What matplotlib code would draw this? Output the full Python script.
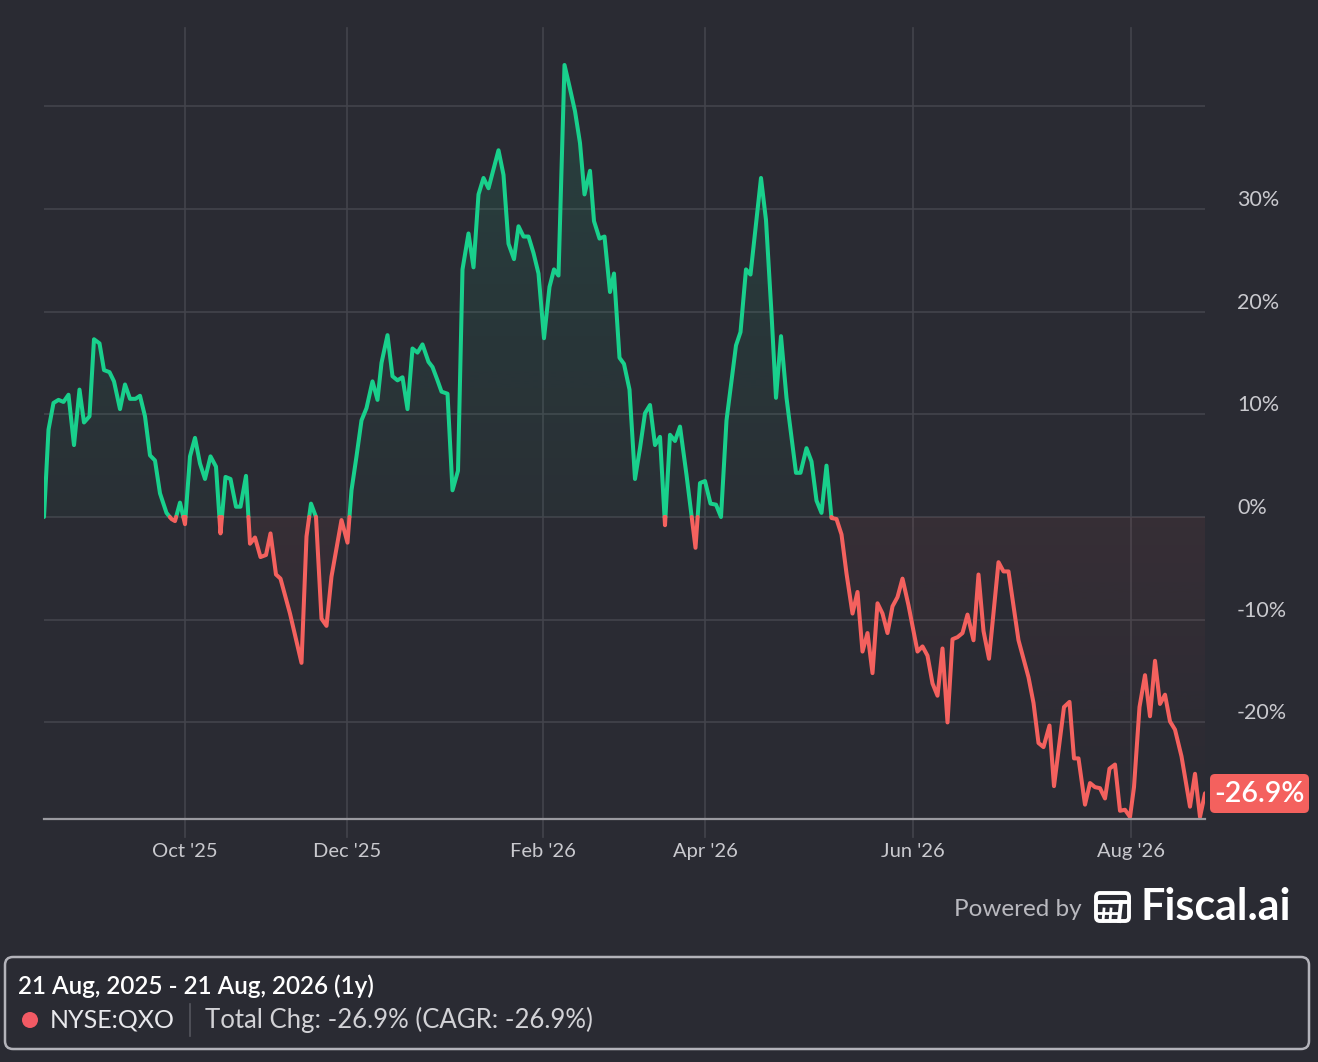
import numpy as np
import matplotlib
matplotlib.use("Agg")
import matplotlib.pyplot as plt
from matplotlib.patches import FancyBboxPatch, Circle
from matplotlib.path import Path
import matplotlib.transforms as mtransforms

plt.rcParams['font.family'] = ['Lato', 'DejaVu Sans']

# ---- data (x = trading-session position, y = % change) ----
day_pos = [0.0, 0.9, 1.9, 2.9, 3.9, 4.9, 6.0, 7.1, 8.0, 9.1, 10.0, 11.1, 12.0, 13.1, 14.0,
           15.2, 16.2, 17.2, 18.3, 19.2, 20.2, 21.2, 22.2, 23.2, 24.5, 25.5, 26.2, 27.2, 28.2,
           29.2, 30.2, 31.2, 32.2, 33.3, 34.4, 35.3, 36.3, 37.3, 38.4, 39.3, 40.4, 41.2, 42.2,
           43.3, 44.4, 45.3, 46.4, 47.3, 49.2, 51.5, 52.5, 53.4, 54.4, 55.5, 56.5, 57.5, 59.5,
           60.7, 61.5, 62.5, 63.5, 64.5, 65.7, 66.7, 67.5, 68.7, 69.7, 70.7, 71.7, 72.7, 73.7,
           74.7, 75.7, 76.9, 77.7, 78.7, 79.5, 80.7, 81.7, 82.8, 83.7, 84.9, 85.9, 86.9, 87.9,
           88.9, 90.9, 91.9, 92.9, 94.0, 94.9, 95.9, 96.9, 97.9, 98.9, 100.0, 101.1, 102.0,
           102.9, 104.1, 105.1, 106.2, 107.2, 108.1, 109.2, 110.0, 111.1, 112.1, 113.2, 114.0,
           115.1, 116.0, 117.1, 118.2, 119.2, 120.2, 121.2, 122.2, 123.2, 124.2, 125.2, 126.2,
           127.2, 128.5, 130.3, 131.2, 132.2, 133.3, 134.4, 135.4, 136.5, 138.4, 139.3, 140.4,
           141.3, 143.4, 144.4, 145.5, 146.4, 147.4, 148.5, 150.4, 151.3, 152.5, 153.5, 154.5,
           155.5, 156.5, 157.5, 158.5, 159.5, 160.5, 161.7, 162.7, 163.7, 164.7, 165.7, 166.7,
           167.7, 168.7, 169.7, 170.7, 171.7, 172.9, 174.7, 175.7, 176.7, 177.7, 178.7, 179.7,
           180.7, 181.7, 182.7, 183.7, 184.7, 185.9, 186.9, 187.9, 189.0, 190.9, 191.9, 192.9,
           194.9, 196.9, 197.9, 198.9, 199.9, 201.1, 202.0, 204.0, 205.1, 206.0, 206.9, 208.2,
           209.2, 210.2, 211.2, 212.2, 213.1, 214.2, 215.2, 216.2, 217.2, 218.0, 219.1, 220.2,
           221.2, 222.2, 223.2, 224.2, 225.2, 226.2, 227.5, 229.2, 230.2, 231.2, 232.2]

pct_chg = [0.0, 8.5, 11.1, 11.4, 11.2, 11.9, 7.0, 12.4, 9.2, 9.8, 17.3, 16.9, 14.3, 14.1, 13.2,
           10.5, 12.9, 11.5, 11.5, 11.8, 9.8, 6.0, 5.5, 2.3, 0.4, -0.2, -0.4, 1.4, -0.7,
           5.9, 7.7, 5.2, 3.7, 5.9, 4.9, -1.6, 3.9, 3.7, 1.0, 1.0, 4.0, -2.6, -2.0,
           -3.9, -3.7, -1.6, -5.6, -6.0, -9.4, -14.2, -1.9, 1.3, 0.0, -9.9, -10.6, -5.8, -0.3,
           -2.5, 2.6, 5.9, 9.4, 10.6, 13.2, 11.4, 15.0, 17.7, 13.7, 13.3, 13.6, 10.5, 16.4,
           16.0, 16.8, 15.1, 14.6, 13.3, 12.2, 12.0, 2.6, 4.5, 24.1, 27.6, 24.3, 31.4, 33.0,
           32.0, 35.7, 33.3, 26.6, 25.1, 28.3, 27.3, 27.3, 25.7, 23.7, 17.4, 22.4, 24.1,
           23.5, 44.0, 41.9, 39.5, 36.4, 31.4, 33.7, 28.8, 27.1, 27.3, 21.9, 23.7,
           15.5, 14.9, 12.4, 3.7, 6.7, 10.1, 10.9, 7.0, 7.8, -0.8, 8.0, 7.4,
           8.8, 4.1, -3.0, 3.3, 3.5, 1.3, 1.2, 0.0, 9.4, 16.7, 18.0, 24.1,
           23.6, 33.0, 28.9, 19.8, 11.6, 17.6, 11.6, 4.3, 4.3, 6.7, 5.4, 1.6,
           0.4, 5.0, -0.1, -0.2, -1.7, -5.5, -9.4, -7.3, -13.1, -11.3, -15.2, -8.4,
           -9.4, -11.3, -8.7, -7.8, -6.0, -8.6, -13.1, -12.6, -13.5, -16.2, -17.4, -12.8,
           -20.0, -11.9, -11.7, -11.3, -9.5, -12.0, -5.6, -11.1, -13.8, -4.4, -5.3, -5.3,
           -12.0, -15.6, -18.1, -22.0, -22.4, -20.3, -26.2, -18.5, -18.0, -23.5, -23.5, -28.0,
           -25.9, -26.3, -26.4, -27.4, -24.5, -24.1, -28.6, -28.5, -29.2, -26.3, -18.5, -15.4,
           -19.4, -14.0, -18.2, -17.3, -19.9, -20.7, -23.3, -28.2, -25.0, -29.2, -26.9]

tick_pos = [28.2, 60.6, 99.8, 132.2, 173.8, 217.4]
tick_labels = ["Oct '25", "Dec '25", "Feb '26", "Apr '26", "Jun '26", "Aug '26"]
y_grid = [-20, -10, 0, 10, 20, 30, 40]
y_labels = [-20, -10, 0, 10, 20, 30]

last_value = pct_chg[-1]
ticker = "NYSE:QXO"
period_text = "21 Aug, 2025 - 21 Aug, 2026 (1y)"

BG = '#2a2b33'
GRID = '#43444c'
GREEN = '#19d08c'
RED = '#f4615e'
TXT = '#c9c9ce'

W, H = 1318, 1062
fig = plt.figure(figsize=(W / 100, H / 100), dpi=100, facecolor=BG)

# overlay in pixel coordinates for footer elements
ov = fig.add_axes([0, 0, 1, 1], zorder=0)
ov.set_xlim(0, W)
ov.set_ylim(H, 0)
ov.axis('off')
ov.patch.set_alpha(0)

x0, x1, ytop, ybot = 44, 1205, 28, 819
ax = fig.add_axes([x0 / W, 1 - ybot / H, (x1 - x0) / W, (ybot - ytop) / H], zorder=1)
ax.set_facecolor('none')
ax.set_xlim(0, 232.2)
ax.set_ylim(-29.4, 47.6)

for s in ['top', 'left', 'right']:
    ax.spines[s].set_visible(False)
ax.spines['bottom'].set_color('#9a9aa0')
ax.spines['bottom'].set_linewidth(1.6)
ax.spines['bottom'].set_zorder(6)

for g in y_grid:
    ax.axhline(g, color=GRID, lw=1.2, zorder=1)
for t in tick_pos:
    ax.axvline(t, ymin=-18 / 791, ymax=1, color=GRID, lw=1.2, zorder=1, clip_on=False)

ax.set_xticks(tick_pos, tick_labels)
ax.set_yticks([])
ax.tick_params(axis='x', length=0, pad=17, labelsize=14.5, labelcolor=TXT)

lab_tr = mtransforms.offset_copy(ax.get_yaxis_transform(), fig=fig, x=0, y=3, units='dots')
for v in y_labels:
    ax.text(1.0276, v, f"{v}%", transform=lab_tr, ha='left', va='baseline',
            fontsize=15.5, color=TXT)

# split the line at zero crossings
x = np.asarray(day_pos, float)
y = np.asarray(pct_chg, float)
xs, ys = [x[0]], [y[0]]
for i in range(1, len(x)):
    if y[i - 1] * y[i] < 0:
        t = y[i - 1] / (y[i - 1] - y[i])
        xs.append(x[i - 1] + t * (x[i] - x[i - 1]))
        ys.append(0.0)
    xs.append(x[i])
    ys.append(y[i])
xs = np.array(xs)
ys = np.array(ys)


def grad_fill(yclip, color, lo, hi, a_lo, a_hi):
    verts = [(xs[0], 0)] + list(zip(xs, yclip)) + [(xs[-1], 0), (xs[0], 0)]
    codes = [Path.MOVETO] + [Path.LINETO] * (len(verts) - 2) + [Path.CLOSEPOLY]
    clip = Path(verts, codes)
    rgb = matplotlib.colors.to_rgb(color)
    n = 256
    img = np.zeros((n, 1, 4))
    img[:, 0, :3] = rgb
    img[:, 0, 3] = np.linspace(a_hi, a_lo, n)  # row 0 is the top
    im = ax.imshow(img, extent=[xs[0], xs[-1], lo, hi], aspect='auto',
                   origin='upper', zorder=2, interpolation='bilinear')
    im.set_clip_path(clip, ax.transData)


grad_fill(np.maximum(ys, 0), GREEN, 0, 47.6, 0.03, 0.14)
grad_fill(np.minimum(ys, 0), RED, -29.4, 0, 0.0, 0.065)

ax.plot(xs, np.where(ys >= 0, ys, np.nan), color=GREEN, lw=2.9, zorder=4,
        solid_joinstyle='round', solid_capstyle='round')
ax.plot(xs, np.where(ys <= 0, ys, np.nan), color=RED, lw=2.9, zorder=4,
        solid_joinstyle='round', solid_capstyle='round')

# last value badge
ov.add_patch(FancyBboxPatch((1210, 774), 99, 39, boxstyle='round,pad=0,rounding_size=5',
                            facecolor=RED, edgecolor='none', zorder=5))
ov.text(1259, 794, f"{last_value:.1f}%", ha='center', va='center', fontsize=20.5,
        color='white', fontweight='semibold', zorder=6)

# powered by
ov.text(1082, 910, "Powered by", ha='right', va='center', fontsize=17.5, color='#b9b9bf')
lw_logo = 2.8
ov.add_patch(FancyBboxPatch((1096, 893), 33, 28, boxstyle='round,pad=0,rounding_size=4',
                            facecolor='none', edgecolor='white', lw=lw_logo))
ov.plot([1096, 1129], [902, 902], color='white', lw=lw_logo)
ov.plot([1121, 1119], [902, 921], color='white', lw=lw_logo)
for gx in [1104, 1111]:
    ov.plot([gx, gx - 1], [909, 921], color='white', lw=2)
ov.plot([1096, 1119], [913, 913], color='white', lw=2)
ov.text(1140, 907, "Fiscal.ai", ha='left', va='center', fontsize=31, color='white',
        fontweight='bold')

# legend box
ov.add_patch(FancyBboxPatch((5, 957), 1304, 92, boxstyle='round,pad=0,rounding_size=8',
                            facecolor=BG, edgecolor='#b3b3ba', lw=1.8))
ov.text(18, 986, period_text, ha='left', va='center', fontsize=17.5, color='white',
        fontweight='semibold')
ov.add_patch(Circle((30, 1020), 8, facecolor='#f25a64', edgecolor='none'))
ov.text(50, 1020, ticker, ha='left', va='center', fontsize=18, color='#e8e8ec')
ov.plot([190, 190], [1004, 1036], color='#55565e', lw=1.2)
ov.text(205, 1020, f"Total Chg: {last_value:.1f}% (CAGR: {last_value:.1f}%)", ha='left',
        va='center', fontsize=18.5, color='#d2d2d6')

fig.savefig('out.png', dpi=100, facecolor=BG)
